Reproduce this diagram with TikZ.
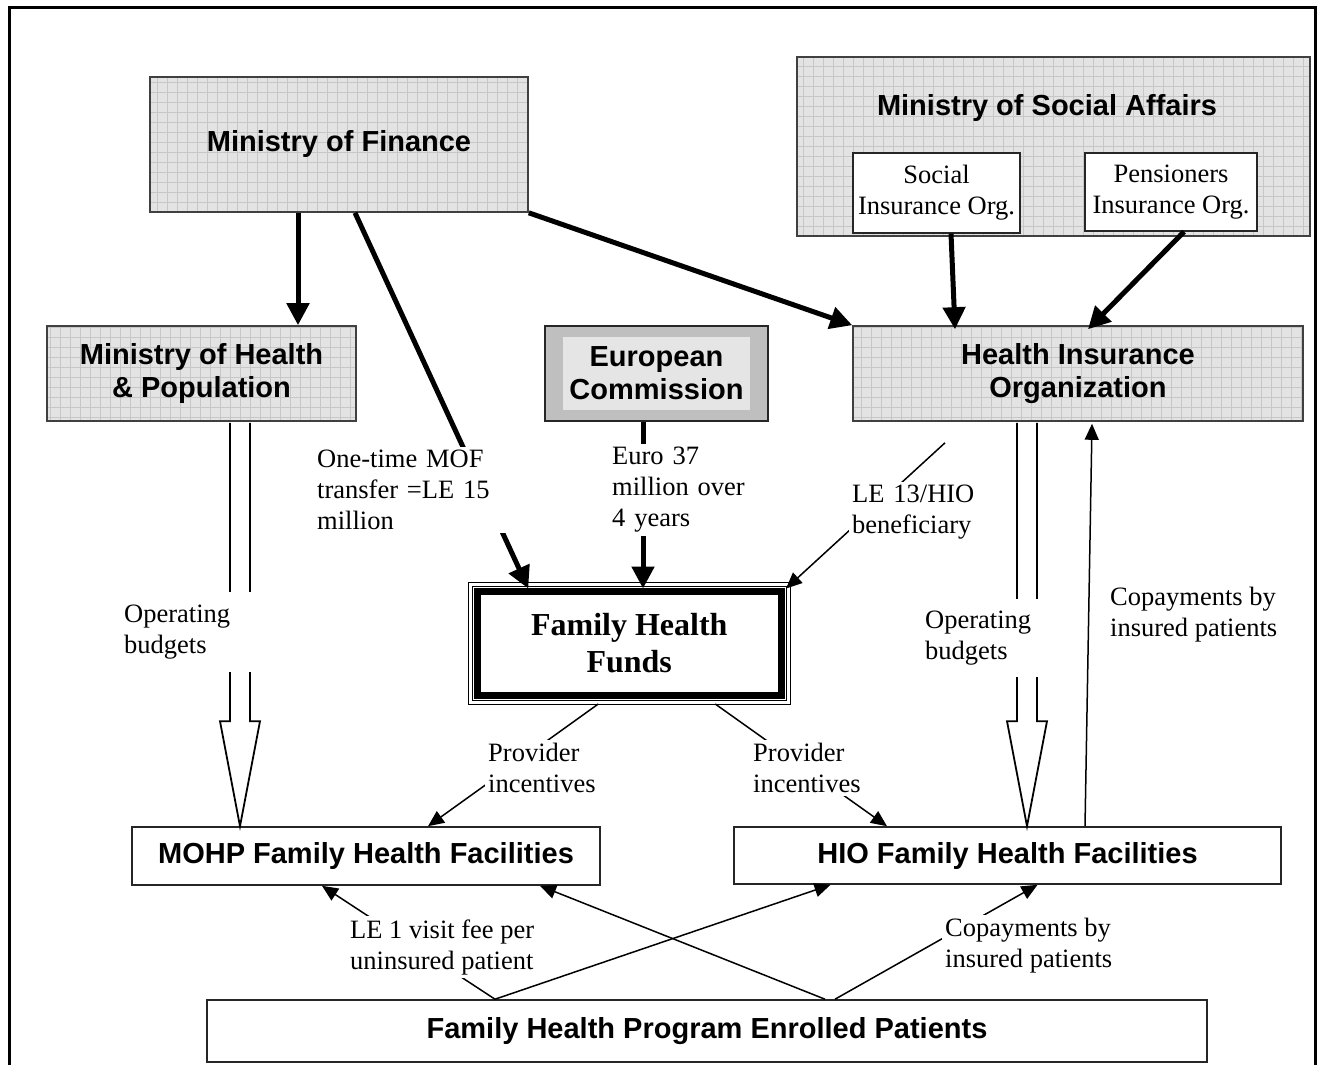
\documentclass[tikz,border=0pt]{standalone}
\usepackage{fontspec}
\setmainfont{Liberation Serif}
\setsansfont{Liberation Sans}
\usetikzlibrary{arrows.meta, positioning, calc}

\newcommand{\headfont}{\sffamily\bfseries\fontsize{29}{33}\selectfont}
\newcommand{\notefont}{\fontsize{26.5}{31}\selectfont}
\newcommand{\fundfont}{\bfseries\fontsize{32}{37}\selectfont}

\tikzset{
  gridbox/.style={draw=black!75, line width=1.6pt, fill=black!11, inner sep=2pt,
    path picture={\draw[black!22, line width=0.6pt, step=10pt]
      (path picture bounding box.south west) grid (path picture bounding box.north east);}},
  plainbox/.style={draw=black!85, line width=1.6pt, fill=white, inner sep=2pt},
  orgbox/.style={draw=black!85, line width=1.4pt, fill=white, inner sep=2pt,
    font=\notefont, align=center},
  note/.style={font=\notefont, align=left, inner sep=3pt},
  notew/.style={note, fill=white},
  flow/.style={line width=5pt, -{Triangle[length=22pt,width=22pt]}},
  pay/.style={line width=1.5pt, -{Triangle[length=16pt,width=14pt]}},
  hollow/.style={line width=1.8pt, fill=white, line join=miter},
}

% wide open arrow for the operating budgets
\newcommand{\budgetarrow}[2]{%
  \draw[hollow] ($(#1)+(-10,1)$) -- ($(#2)+(-10,-105)$) -- ($(#2)+(-20,-105)$) -- (#2)
    -- ($(#2)+(20,-105)$) -- ($(#2)+(10,-105)$) -- ($(#1)+(10,1)$);}

\begin{document}
\begin{tikzpicture}[x=1pt, y=-1pt]
\useasboundingbox (0,0) rectangle (1321,1065);

% Frame
\draw[line width=3pt] (9,1065) -- (9,8) -- (1315,8) -- (1315,1065);

% Top level
\node[gridbox, minimum width=378pt, minimum height=135pt, font=\headfont] (mof) at (339,144.5) {Ministry of Finance};
\node[gridbox, minimum width=513pt, minimum height=179pt] (mosa) at (1053.5,146.5) {};
\node[font=\headfont] (mosatxt) at (1047,108) {Ministry of Social Affairs};
\node[orgbox, minimum width=167pt, minimum height=80pt] (sio) at (936.5,193) {Social\\Insurance Org.};
\node[orgbox, minimum width=172pt, minimum height=78pt] (pio) at (1171,192) {Pensioners\\Insurance Org.};

% Second level
\node[gridbox, minimum width=309pt, minimum height=95pt, font=\headfont, align=center] (moh) at (201.5,373.5) {Ministry of Health\\\& Population};
\node[draw=black!85, line width=1.6pt, fill=black!25, minimum width=223pt, minimum height=95pt] (ec) at (656.5,373.5) {};
\node[fill=black!10, inner sep=2pt, minimum width=187pt, minimum height=73pt, font=\headfont, align=center] (ectxt) at (ec.center) {European\\Commission};
\node[gridbox, minimum width=450pt, minimum height=95pt, font=\headfont, align=center] (hio) at (1078,373.5) {Health Insurance\\Organization};

% Family Health Funds
\node[draw, line width=7pt, outer sep=0pt, fill=white, minimum width=303.5pt, minimum height=103.5pt, font=\fundfont, align=center] (fhf) at (629.25,643.25) {Family Health\\Funds};
\draw[line width=1pt] ($(fhf.south west)+(-5.5,5.5)$) rectangle ($(fhf.north east)+(5.5,-5.5)$);
\draw[line width=1pt] ($(fhf.south west)+(-9,9)$) rectangle ($(fhf.north east)+(9,-9)$);

% Facilities and patients
\node[plainbox, minimum width=468pt, minimum height=58pt, font=\headfont] (mohpf) at (366,856) {MOHP Family Health Facilities};
\node[plainbox, minimum width=547pt, minimum height=57pt, font=\headfont] (hiof) at (1007.5,855.5) {HIO Family Health Facilities};
\node[plainbox, minimum width=1000pt, minimum height=62pt, font=\headfont] (fhp) at (707,1031) {Family Health Program Enrolled Patients};

% Funding flows
\draw[flow] ($(mof.south)+(-41,0)$) -- ($(moh.north)+(96.5,0)$);
\draw[flow] ($(mof.south)+(16,0)$) -- ($(fhf.north)+(-101,-3)$);
\draw[flow] (mof.south east) -- (hio.north west);
\draw[flow] ($(sio.south)+(14.5,0)$) -- ($(hio.north)+(-123,4)$);
\draw[flow] ($(pio.south)+(13,0)$) -- ($(hio.north)+(10,4)$);
\draw[flow] ($(ec.south)+(-13.5,0)$) -- ($(fhf.north)+(13.75,-3)$);

\coordinate (hiobelow) at ($(hio.south)+(-133,21)$);
\draw[pay] (hiobelow) -- ($(fhf.north east)+(5,-3)$);
\draw[pay] ($(fhf.south)+(-31,9)$) -- ($(mohpf.north)+(62,0)$);
\draw[pay] ($(fhf.south)+(86,9)$) -- ($(hiof.north)+(-120.5,0)$);
\draw[pay] ($(hiof.north)+(77.5,0)$) -- ($(hio.south)+(14,2)$);

% Budgets
\coordinate (mohout) at ($(moh.south)+(38.5,0)$);
\coordinate (mohin) at (mohout |- mohpf.north);
\budgetarrow{mohout}{mohin}
\coordinate (hioout) at ($(hio.south)+(-51,0)$);
\coordinate (hioin) at (hioout |- hiof.north);
\budgetarrow{hioout}{hioin}

% Patient payments
\draw[pay] ($(fhp.north)+(-212,0)$) -- ($(mohpf.south)+(-44,0)$);
\draw[pay] ($(fhp.north)+(-212,0)$) -- ($(hiof.south)+(-177,0)$);
\draw[pay] ($(fhp.north)+(118,0)$) -- ($(mohpf.south)+(174,0)$);
\draw[pay] ($(fhp.north)+(128,0)$) -- ($(hiof.south)+(30,0)$);

% Labels
\node[notew, anchor=west, text width=188pt] (lmof) at (314,490) {One-time MOF\\transfer =LE 15\\million};
\node[notew, anchor=west, text width=140pt] (leuro) at (609,490) {Euro 37\\million over\\4 years};
\node[notew, anchor=west, text width=126pt] (lhio) at (849,512) {LE 13/HIO\\beneficiary};
\node[notew, anchor=west, text width=128pt, minimum height=80pt] (lbud1) at (121,632) {Operating\\budgets};
\node[notew, anchor=west, text width=114pt, minimum height=78pt] (lbud2) at (922,638) {Operating\\budgets};
\node[note, anchor=west] (lcopay1) at (1107,615) {Copayments by\\insured patients};
\node[notew, anchor=west] (lprov1) at (485,768) {Provider\\incentives};
\node[notew, anchor=west] (lprov2) at (750,768) {Provider\\incentives};
\node[notew, anchor=west] (lvisit) at (347,947) {LE 1 visit fee per\\uninsured patient};
\node[notew, anchor=west] (lcopay2) at (942,946) {Copayments by\\insured patients};
\end{tikzpicture}
\end{document}
